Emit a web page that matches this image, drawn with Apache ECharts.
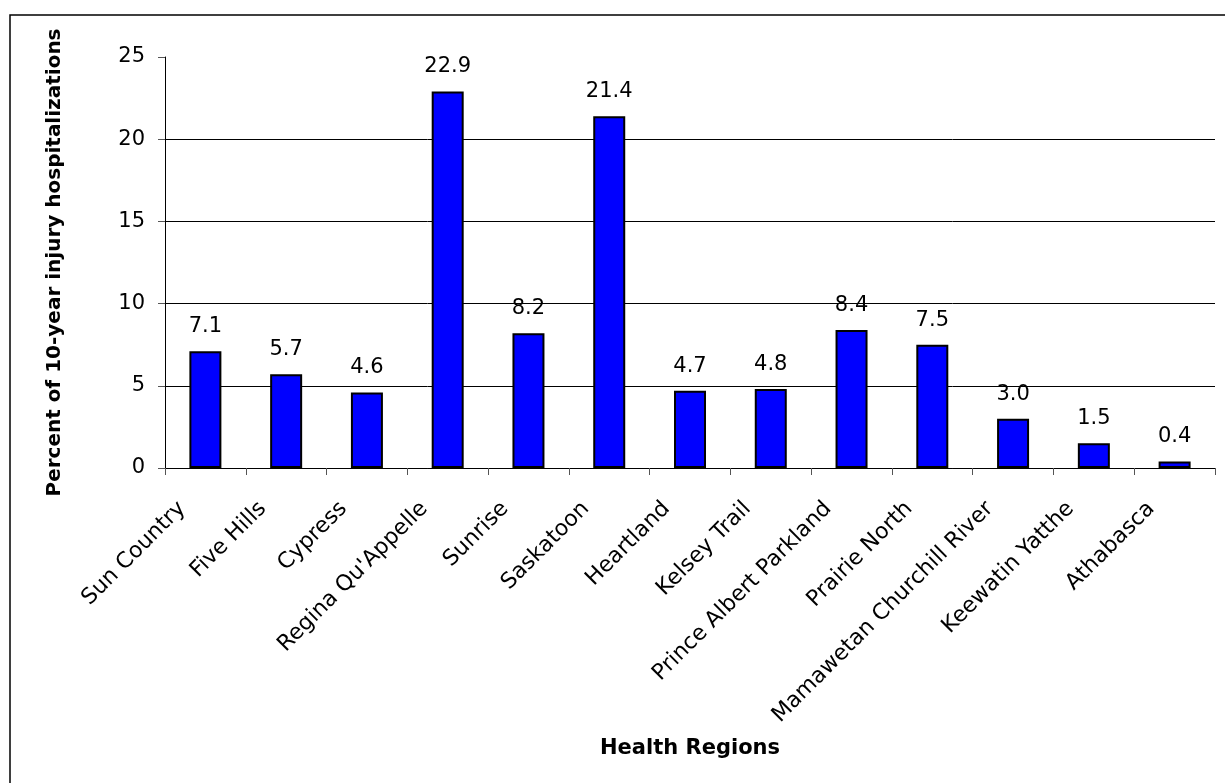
<!DOCTYPE html>
<html>
<head>
<meta charset="utf-8">
<script src="https://cdn.jsdelivr.net/npm/echarts@6/dist/echarts.min.js"></script>
<style>
  html, body { margin: 0; padding: 0; background: #fff; }
  #chart { width: 1225px; height: 783px; }
</style>
</head>
<body>
<div id="chart"></div>
<script>
// Share of 10-year injury hospitalizations by health region
const regions = [
  'Sun Country', 'Five Hills', 'Cypress', "Regina Qu'Appelle", 'Sunrise',
  'Saskatoon', 'Heartland', 'Kelsey Trail', 'Prince Albert Parkland',
  'Prairie North', 'Mamawetan Churchill River', 'Keewatin Yatthe', 'Athabasca'
];
const percents = [7.1, 5.7, 4.6, 22.9, 8.2, 21.4, 4.7, 4.8, 8.4, 7.5, 3.0, 1.5, 0.4];
const yTicks = { min: 0, max: 25, interval: 5 };

const FONT = 'DejaVu Sans';

const chart = echarts.init(document.getElementById('chart'), null, { renderer: 'canvas' });

chart.setOption({
  animation: false,
  backgroundColor: '#fff',
  textStyle: { fontFamily: FONT },
  graphic: [{
    type: 'rect',
    shape: { x: 10, y: 15, width: 1240, height: 800 },
    style: { fill: 'none', stroke: '#000', lineWidth: 1.5 },
    z: 100
  }],
  grid: { left: 165, right: 10, top: 57, bottom: 315, containLabel: false },
  xAxis: {
    type: 'category',
    data: regions,
    name: 'Health Regions',
    nameLocation: 'middle',
    nameGap: 270,
    nameTextStyle: { fontFamily: FONT, fontWeight: 'bold', fontSize: 21, color: '#000' },
    axisLine: { lineStyle: { color: '#000', width: 1 } },
    axisTick: { show: true, length: 7, lineStyle: { color: '#555', width: 1 } },
    axisLabel: {
      rotate: 45, interval: 0, margin: 14,
      padding: [0, 33, 0, 0],
      fontFamily: FONT, fontSize: 22, color: '#000'
    }
  },
  yAxis: {
    type: 'value',
    min: yTicks.min, max: yTicks.max, interval: yTicks.interval,
    name: 'Percent of 10-year injury hospitalizations',
    nameLocation: 'middle',
    nameRotate: 90,
    nameGap: 100,
    nameTextStyle: { fontFamily: FONT, fontWeight: 'bold', fontSize: 20, color: '#000' },
    axisLine: { show: true, lineStyle: { color: '#000', width: 1 } },
    axisTick: { show: true, length: 7, lineStyle: { color: '#555', width: 1 } },
    axisLabel: { margin: 20, fontFamily: FONT, fontSize: 21, color: '#000' },
    splitLine: {
      show: true,
      lineStyle: { color: ['#000', '#000', '#000', '#000', '#000', 'rgba(0,0,0,0)'], width: 1 }
    }
  },
  series: [{
    type: 'bar',
    data: percents,
    barWidth: 32,
    itemStyle: { color: '#0000ff', borderColor: '#000', borderWidth: 2 },
    label: {
      show: true, position: 'top', distance: 14,
      fontFamily: FONT, fontSize: 21, color: '#000',
      formatter: p => p.value.toFixed(1)
    }
  }]
});
</script>
</body>
</html>
